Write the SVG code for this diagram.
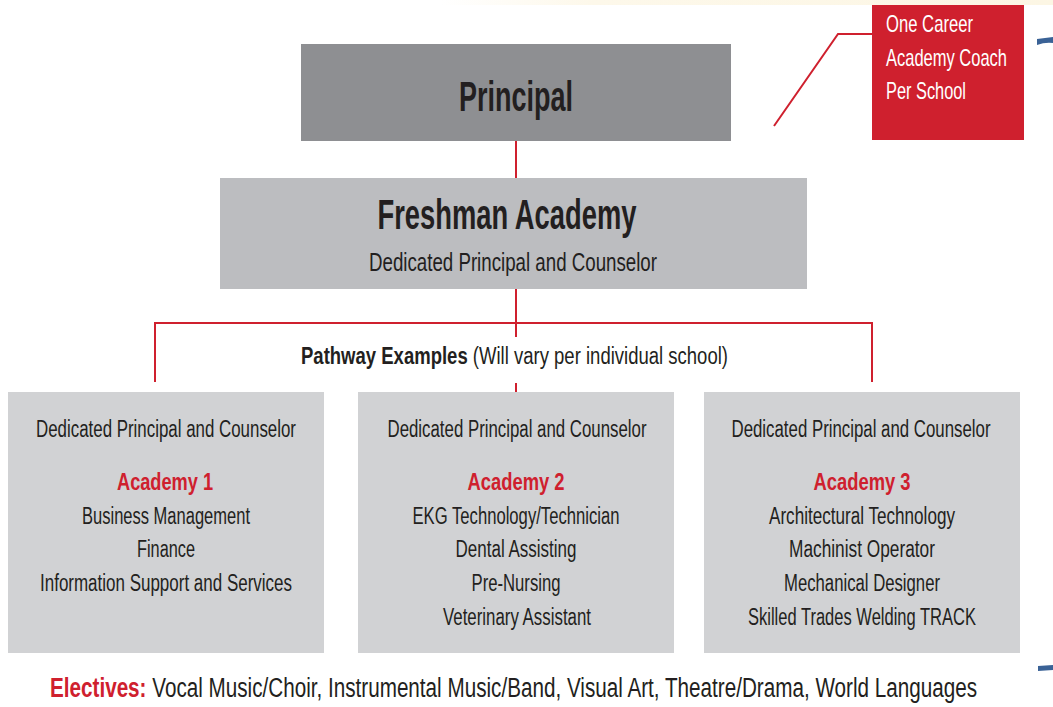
<svg xmlns="http://www.w3.org/2000/svg" width="1053" height="707" viewBox="0 0 1053 707">
<defs>
<linearGradient id="cream" x1="0" y1="0" x2="1" y2="0">
<stop offset="0" stop-color="#ffffff"/>
<stop offset="0.25" stop-color="#fdf8ea"/>
<stop offset="1" stop-color="#fcf6e4"/>
</linearGradient>
<style>
text{font-family:"Liberation Sans Narrow","Liberation Sans","Noto Sans",sans-serif;fill:#231f20}
.b{font-weight:bold}
.red{fill:#cf202e}
.w{fill:#ffffff}
.conn{stroke:#cf202e;stroke-width:2;fill:none}
.acad{fill:#d1d2d4}
.t24{font-size:23px}
</style>
</defs>
<rect width="1053" height="707" fill="#ffffff"/>
<rect x="440" y="0" width="613" height="5" fill="url(#cream)"/>
<g id="connectors">
<line class="conn" x1="516" y1="141" x2="516" y2="178"/>
<line class="conn" x1="516" y1="289" x2="516" y2="323"/>
<polyline class="conn" points="155,382 155,323 872,323 872,382"/>
<line class="conn" x1="516" y1="323" x2="516" y2="337"/>
<line class="conn" x1="516" y1="383" x2="516" y2="392"/>
<polyline class="conn" points="774,126 838,34 872,34"/>
</g>
<g id="principal">
<rect x="301" y="44" width="430" height="97" fill="#8e8f92"/>
<text class="b" x="516" y="111" font-size="42" text-anchor="middle" textLength="114" lengthAdjust="spacingAndGlyphs">Principal</text>
</g>
<g id="freshman">
<rect x="220" y="178" width="587" height="111" fill="#bcbdc0"/>
<text class="b" x="507" y="229" font-size="42" text-anchor="middle" textLength="259" lengthAdjust="spacingAndGlyphs">Freshman Academy</text>
<text x="513" y="271" font-size="26" text-anchor="middle" textLength="288" lengthAdjust="spacingAndGlyphs">Dedicated Principal and Counselor</text>
</g>
<g id="pathway-label">
<text x="301" y="364" font-size="23" textLength="427" lengthAdjust="spacingAndGlyphs"><tspan class="b">Pathway Examples</tspan> (Will vary per individual school)</text>
</g>
<g id="coach">
<rect x="872" y="5" width="152" height="135" fill="#cf202e"/>
<text class="w" x="886" y="32" font-size="24" textLength="87" lengthAdjust="spacingAndGlyphs">One Career</text>
<text class="w" x="886" y="66" font-size="24" textLength="121" lengthAdjust="spacingAndGlyphs">Academy Coach</text>
<text class="w" x="886" y="99" font-size="24" textLength="80" lengthAdjust="spacingAndGlyphs">Per School</text>
</g>
<g id="academy1">
<rect class="acad" x="8" y="392" width="316" height="261"/>
<text class="t24" x="166" y="437" text-anchor="middle" textLength="260" lengthAdjust="spacingAndGlyphs">Dedicated Principal and Counselor</text>
<text class="b red" x="165" y="490" font-size="24" text-anchor="middle" textLength="96" lengthAdjust="spacingAndGlyphs">Academy 1</text>
<text class="t24" x="166" y="524" text-anchor="middle" textLength="168" lengthAdjust="spacingAndGlyphs">Business Management</text>
<text class="t24" x="166" y="557" text-anchor="middle" textLength="58" lengthAdjust="spacingAndGlyphs">Finance</text>
<text class="t24" x="166" y="591" text-anchor="middle" textLength="252" lengthAdjust="spacingAndGlyphs">Information Support and Services</text>
</g>
<g id="academy2">
<rect class="acad" x="358" y="392" width="316" height="261"/>
<text class="t24" x="517" y="437" text-anchor="middle" textLength="259" lengthAdjust="spacingAndGlyphs">Dedicated Principal and Counselor</text>
<text class="b red" x="516" y="490" font-size="24" text-anchor="middle" textLength="97" lengthAdjust="spacingAndGlyphs">Academy 2</text>
<text class="t24" x="516" y="524" text-anchor="middle" textLength="207" lengthAdjust="spacingAndGlyphs">EKG Technology/Technician</text>
<text class="t24" x="516" y="557" text-anchor="middle" textLength="121" lengthAdjust="spacingAndGlyphs">Dental Assisting</text>
<text class="t24" x="516" y="591" text-anchor="middle" textLength="89" lengthAdjust="spacingAndGlyphs">Pre-Nursing</text>
<text class="t24" x="517" y="625" text-anchor="middle" textLength="148" lengthAdjust="spacingAndGlyphs">Veterinary Assistant</text>
</g>
<g id="academy3">
<rect class="acad" x="704" y="392" width="316" height="261"/>
<text class="t24" x="861" y="437" text-anchor="middle" textLength="259" lengthAdjust="spacingAndGlyphs">Dedicated Principal and Counselor</text>
<text class="b red" x="862" y="490" font-size="24" text-anchor="middle" textLength="97" lengthAdjust="spacingAndGlyphs">Academy 3</text>
<text class="t24" x="862" y="524" text-anchor="middle" textLength="186" lengthAdjust="spacingAndGlyphs">Architectural Technology</text>
<text class="t24" x="862" y="557" text-anchor="middle" textLength="146" lengthAdjust="spacingAndGlyphs">Machinist Operator</text>
<text class="t24" x="862" y="591" text-anchor="middle" textLength="156" lengthAdjust="spacingAndGlyphs">Mechanical Designer</text>
<text class="t24" x="862" y="625" text-anchor="middle" textLength="228" lengthAdjust="spacingAndGlyphs">Skilled Trades Welding TRACK</text>
</g>
<g id="electives">
<text x="50" y="697" font-size="27" textLength="927" lengthAdjust="spacingAndGlyphs"><tspan class="b red">Electives:</tspan> Vocal Music/Choir, Instrumental Music/Band, Visual Art, Theatre/Drama, World Languages</text>
</g>
<path d="M1037,39 Q1045,38 1053,37 L1053,43 Q1045,42 1037,45 Z" fill="#3a6296"/>
<path d="M1038,666 L1053,665 L1053,670 L1038,671 Z" fill="#3a6296"/>
</svg>
